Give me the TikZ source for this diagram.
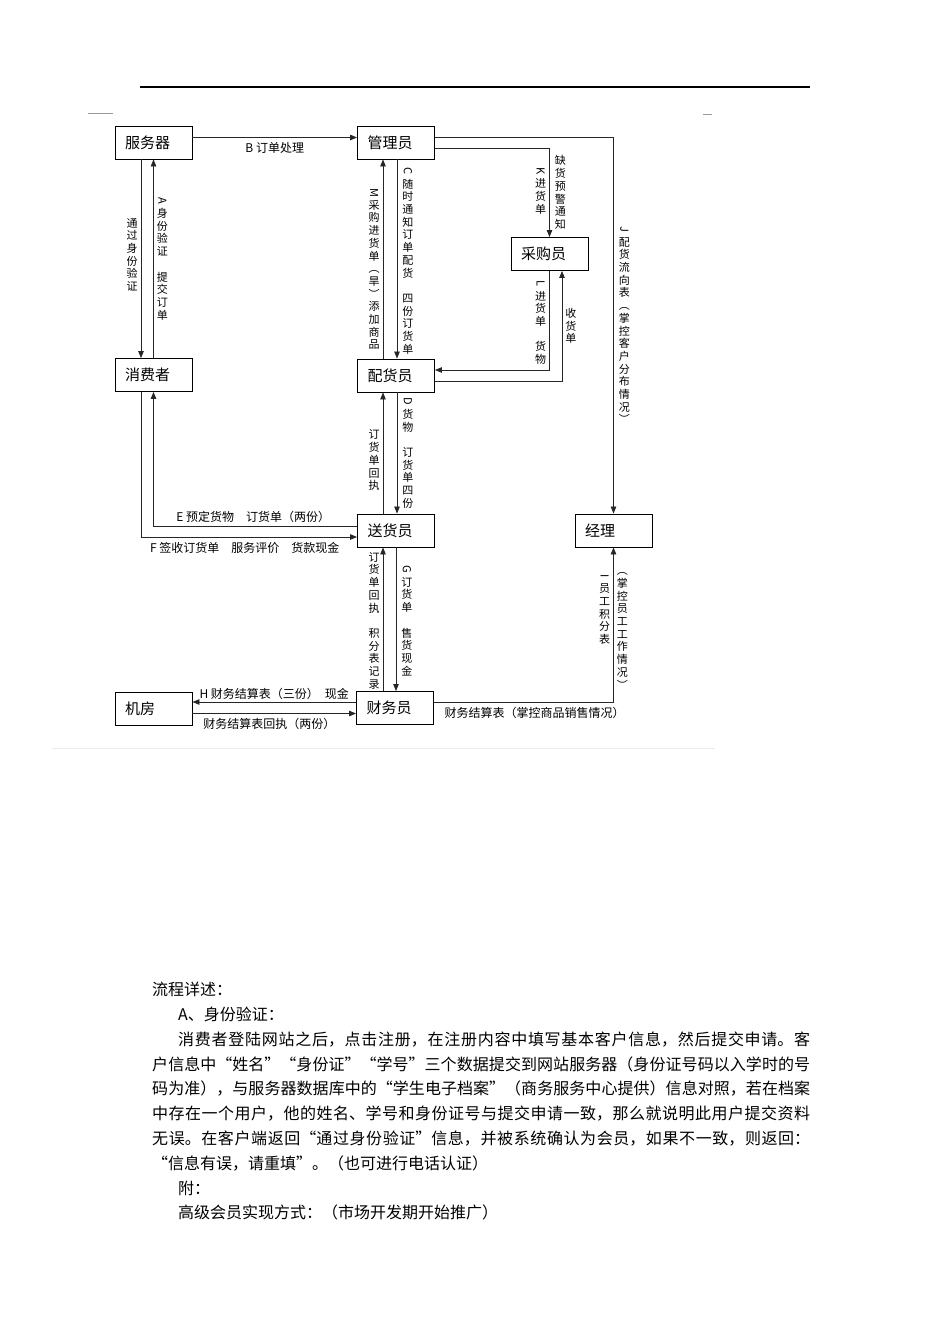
\documentclass[tikz,border=0pt]{standalone}
\usepackage{fontspec}
\setmainfont{Noto Sans CJK SC}
\usepackage{graphicx}
\usetikzlibrary{arrows.meta}
\XeTeXlinebreaklocale "zh"
\XeTeXlinebreakskip=0pt plus 1pt
\setlength{\parindent}{0pt}

\makeatletter
\newcommand\vtxt[1]{\def\vacc{}\def\vsep{}%
  \@tfor\vc:=#1\do{\edef\vacc{\unexpanded\expandafter{\vacc}%
    \unexpanded\expandafter{\vsep}\unexpanded\expandafter{\vc}}\def\vsep{\\}}%
  \vacc}
\makeatother
\newcommand\vgap{\mbox{}}
\newcommand\rl[1]{\rotatebox[origin=c]{-90}{#1}}
\newcommand\zl{\makebox[1em][r]{“}}
\newcommand\zr{\makebox[1em][l]{”}}

\begin{document}
\begin{tikzpicture}[x=1pt,y=-1pt,
  box/.style={draw,line width=0.9pt,minimum width=77pt,minimum height=33pt,
    text width=57pt,inner xsep=10pt,align=left,font=\fontsize{15}{18}\selectfont},
  vlab/.style={font=\fontsize{11}{12.7}\selectfont,align=center,inner xsep=3pt,inner ysep=1.5pt},
  hlab/.style={font=\fontsize{12}{14}\selectfont,inner sep=1.5pt},
  link/.style={draw=black!85,line width=0.8pt,-{Triangle[length=7pt,width=5.5pt]}},
  para/.style={text width=658pt,align=justify,inner sep=0pt,font=\fontsize{16}{24.8}\selectfont}]

  \useasboundingbox[fill=white] (0,0) rectangle (950,1344);

  % page rules
  \draw[line width=1.6pt] (140,87) -- (810,87);
  \draw[black!40] (88,113) -- (113,113);
  \draw[black!40] (703,114) -- (712,114);
  \draw[line width=1pt,black!8] (52,748) -- (715,748);

  \node[box] (fwq) at (153.5,142.5) {服务器};
  \node[box] (gly) at (396,142.5) {管理员};
  \node[box] (cgy) at (549.5,254) {采购员};
  \node[box] (xfz) at (153.5,375) {消费者};
  \node[box] (phy) at (396,375.5) {配货员};
  \node[box] (shy) at (396,530.5) {送货员};
  \node[box] (jl) at (613.5,530.5) {经理};
  \node[box] (jf) at (153.5,708.5) {机房};
  \node[box] (cwy) at (395,708) {财务员};

  % server, manager, consumer
  \draw[link] ([yshift=5pt]fwq.east) -- ([yshift=5pt]gly.west)
    node[hlab,below=3pt,midway] {B 订单处理};
  \draw[link] ([xshift=-12.5pt]fwq.south) -- ([xshift=-12.5pt]xfz.north)
    node[vlab,left,pos=.48] {\vtxt{通过身份验证}};
  \draw[link] (xfz.north) -- (fwq.south)
    node[vlab,right,pos=.5] {\vtxt{{\rl{A}}身份验证\vgap 提交订单}};
  \draw[link] ([xshift=1pt]gly.south) -- ([xshift=1pt]phy.north)
    node[vlab,right=2pt,pos=.51] {\vtxt{{\rl{C}}随时通知订单配货\vgap 四份订货单}};
  \draw[link] ([xshift=-13pt]phy.north) -- ([xshift=-13pt]gly.south)
    node[vlab,left,pos=.45] {\vtxt{{\rl{M}}采购进货单︵旱︶添加商品}};

  % purchaser and manager
  \draw[link] ([yshift=-5.5pt]gly.east) -| (cgy.north)
    node[vlab,left,pos=.74] {\vtxt{{\rl{K}}进货单}}
    node[vlab,right=2pt,pos=.75] {\vtxt{缺货预警通知}};
  \draw[link] ([yshift=5.5pt]gly.east) -| (jl.north)
    node[vlab,right=2pt,pos=.75] {\vtxt{{\rl{J}}配货流向表︵掌控客户分布情况︶}};
  \draw[link] (cgy.south) |- ([yshift=5.5pt]phy.east)
    node[vlab,left,pos=.26] {\vtxt{{\rl{L}}进货单\vgap 货物}};
  \draw[link] ([yshift=-5.5pt]phy.east) -| ([xshift=12.5pt]cgy.south)
    node[vlab,right,pos=.75] {\vtxt{收货单}};

  % delivery
  \draw[link] ([xshift=1pt]phy.south) -- ([xshift=1pt]shy.north)
    node[vlab,right=2pt,pos=.5] {\vtxt{{\rl{D}}货物\vgap 订货单四份}};
  \draw[link] ([xshift=-13pt]shy.north) -- ([xshift=-13pt]phy.south)
    node[vlab,left,pos=.44] {\vtxt{订货单回执}};
  \draw[link] ([yshift=4.5pt]shy.west) -| (xfz.south)
    node[hlab,above=1.5pt,pos=.255] {E 预定货物\hspace{1em}订货单（两份）};
  \draw[link] ([xshift=-12.5pt]xfz.south) |- ([yshift=-6.5pt]shy.west)
    node[hlab,below=3pt,pos=.74] {F 签收订货单\hspace{1em}服务评价\hspace{1em}货款现金};
  \draw[link] (shy.south) -- (shy.south |- cwy.north)
    node[vlab,right=2pt,pos=.51] {\vtxt{{\rl{G}}订货单\vgap 售货现金}};
  \draw[link] ([xshift=-13pt]shy.south |- cwy.north) -- ([xshift=-13pt]shy.south)
    node[vlab,left,pos=.49] {\vtxt{订货单回执\vgap 积分表记录}};

  % finance
  \draw[link] ([yshift=6pt]cwy.west) -- ([yshift=6pt]cwy.west -| jf.east)
    node[hlab,above,midway] {H 财务结算表（三份）\hspace{.5em}现金};
  \draw[link] ([yshift=-5pt]jf.east) -- ([yshift=-5pt]jf.east -| cwy.west)
    node[hlab,below=3pt,pos=.47] {财务结算表回执（两份）};
  \draw[link] ([yshift=6pt]cwy.east) -| (jl.south)
    node[hlab,below=3pt,pos=.28] {财务结算表（掌控商品销售情况）}
    node[vlab,left,pos=.8] {\vtxt{{\rl{I}}员工积分表}}
    node[vlab,right,pos=.73] {\vtxt{︵掌控员工工作情况︶}};

  \node[para,anchor=north west] (txt) at (152,982) {流程详述：\par
    \hspace*{26pt}A、身份验证：\par
    \hspace*{26pt}消费者登陆网站之后，点击注册，在注册内容中填写基本客户信息，然后提交申请。客\linebreak
    户信息中\zl 姓名\zr\zl 身份证\zr\zl 学号\zr 三个数据提交到网站服务器（身份证号码以入学时的号\linebreak
    码为准），与服务器数据库中的\zl 学生电子档案\zr（商务服务中心提供）信息对照，若在档案\linebreak
    中存在一个用户，他的姓名、学号和身份证号与提交申请一致，那么就说明此用户提交资料\linebreak
    无误。在客户端返回\zl 通过身份验证\zr 信息，并被系统确认为会员，如果不一致，则返回：\linebreak
    \zl 信息有误，请重填\zr。（也可进行电话认证）\par
    \hspace*{26pt}附：\par
    \hspace*{26pt}高级会员实现方式：（市场开发期开始推广）};
\end{tikzpicture}
\end{document}
